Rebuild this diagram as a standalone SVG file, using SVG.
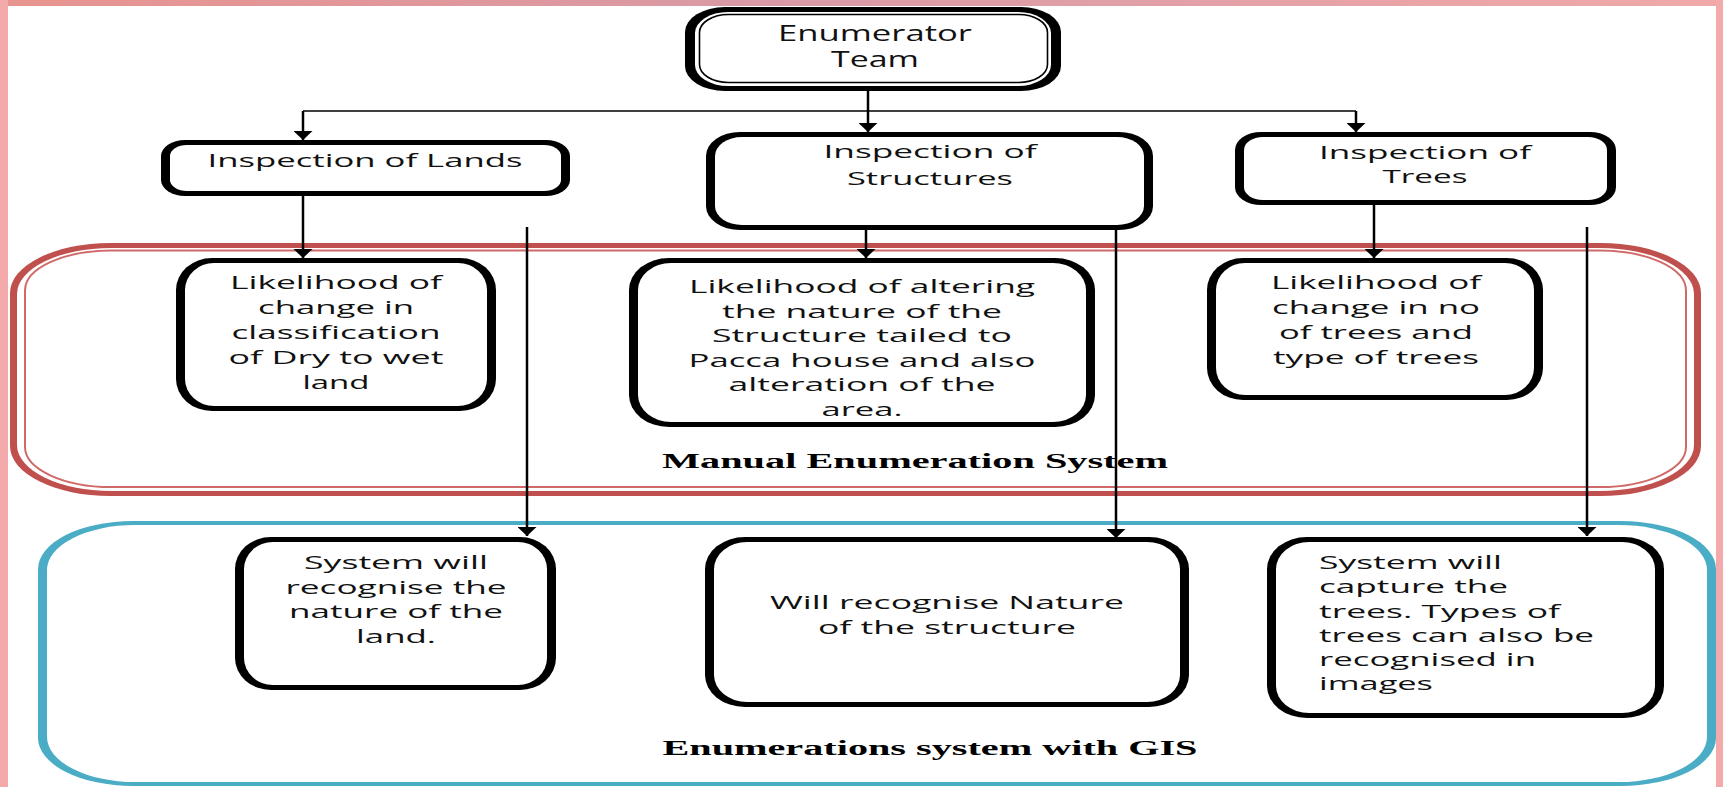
<svg xmlns="http://www.w3.org/2000/svg" width="1723" height="787" viewBox="0 0 1723 787">
<defs>
<linearGradient id="topband" x1="0" y1="0" x2="1" y2="0">
<stop offset="0" stop-color="#E8948F"/>
<stop offset="0.45" stop-color="#D99AA6"/>
<stop offset="1" stop-color="#F0A9A8"/>
</linearGradient>
<marker id="arr" viewBox="0 0 9 19" refX="9" refY="9.5" markerWidth="9" markerHeight="19" markerUnits="userSpaceOnUse" orient="auto">
<path d="M0,0 L9,9.5 L0,19 z" fill="#000"/>
</marker>
<style>
.ob{fill:#000}
.ib{fill:#fff}
.t{font-family:"Open Sans","Liberation Sans",sans-serif;font-size:18px;fill:#111;text-anchor:middle}
.big{font-size:21px}
.tl{text-anchor:start}
.h{font-family:"Liberation Serif","Times New Roman",serif;font-weight:bold;font-size:20px;fill:#000;text-anchor:middle}
.c{stroke:#000;stroke-width:2.5;fill:none}
.hz{stroke:#000;stroke-width:1.5;fill:none}
</style>
</defs>
<rect x="0" y="0" width="1723" height="787" fill="#fff"/>
<rect x="0" y="0" width="1723" height="6" fill="url(#topband)"/>
<rect x="0" y="0" width="8" height="787" fill="#F4A9AA"/>
<rect x="1716" y="0" width="7" height="787" fill="#F4A9AA"/>

<g id="frame-manual">
<rect x="10" y="243" width="1691" height="253" rx="100" ry="50" fill="#C0504D"/>
<rect x="17" y="248" width="1677" height="243" rx="94" ry="46" fill="#fff"/>
<rect x="25" y="250.5" width="1661" height="236.5" rx="86" ry="40" fill="none" stroke="#D06A68" stroke-width="2"/>
<text class="h" x="915" y="468" textLength="506" lengthAdjust="spacingAndGlyphs">Manual Enumeration System</text>
</g>

<g id="frame-gis">
<rect x="38" y="521" width="1678" height="265" rx="95" ry="48" fill="#4BACC6"/>
<rect x="47" y="525" width="1660" height="257" rx="88" ry="45" fill="#fff"/>
<text class="h" x="930" y="755" textLength="535" lengthAdjust="spacingAndGlyphs">Enumerations system with GIS</text>
</g>

<g id="connectors">
<path class="hz" d="M303,111 H1356"/>
<path class="c" d="M868,91 V132" marker-end="url(#arr)"/>
<path class="c" d="M303,111 V140" marker-end="url(#arr)"/>
<path class="c" d="M1356,111 V132" marker-end="url(#arr)"/>
<path class="c" d="M303,196 V258" marker-end="url(#arr)"/>
<path class="c" d="M866,230 V258" marker-end="url(#arr)"/>
<path class="c" d="M1374,205 V258" marker-end="url(#arr)"/>
<path class="c" d="M527,227 V536" marker-end="url(#arr)"/>
<path class="c" d="M1116,230 V538" marker-end="url(#arr)"/>
<path class="c" d="M1587,227 V536" marker-end="url(#arr)"/>
</g>

<g id="enumerator-team">
<rect class="ob" x="685" y="7" width="376" height="84" rx="40" ry="25"/>
<rect class="ib" x="695" y="12" width="356" height="74" rx="33" ry="21"/>
<rect x="699.5" y="14.5" width="348" height="68" rx="29" ry="18" fill="#fff" stroke="#000" stroke-width="1.6"/>
<text class="t big" x="875" y="41" textLength="194" lengthAdjust="spacingAndGlyphs">Enumerator</text>
<text class="t big" x="875" y="67" textLength="88" lengthAdjust="spacingAndGlyphs">Team</text>
</g>

<g id="inspection-lands">
<rect class="ob" x="161" y="140" width="409" height="56" rx="24" ry="16"/>
<rect class="ib" x="170" y="145" width="391" height="46" rx="17" ry="11"/>
<text class="t" x="365" y="167" textLength="315" lengthAdjust="spacingAndGlyphs">Inspection of Lands</text>
</g>

<g id="inspection-structures">
<rect class="ob" x="706" y="132" width="447" height="98" rx="34" ry="24"/>
<rect class="ib" x="715" y="137" width="429" height="88" rx="27" ry="19"/>
<text class="t" x="930" y="158" textLength="213" lengthAdjust="spacingAndGlyphs">Inspection of</text>
<text class="t" x="930" y="185" textLength="166" lengthAdjust="spacingAndGlyphs">Structures</text>
</g>

<g id="inspection-trees">
<rect class="ob" x="1235" y="132" width="381" height="73" rx="26" ry="18"/>
<rect class="ib" x="1244" y="137" width="363" height="63" rx="19" ry="13"/>
<text class="t" x="1425" y="159" textLength="212" lengthAdjust="spacingAndGlyphs">Inspection of</text>
<text class="t" x="1425" y="183" textLength="85" lengthAdjust="spacingAndGlyphs">Trees</text>
</g>

<g id="likelihood-land">
<rect class="ob" x="176" y="258" width="320" height="153" rx="36" ry="32"/>
<rect class="ib" x="185" y="263" width="302" height="143" rx="29" ry="27"/>
<text class="t" x="336" y="289" textLength="212" lengthAdjust="spacingAndGlyphs">Likelihood of</text>
<text class="t" x="336" y="314" textLength="156" lengthAdjust="spacingAndGlyphs">change in</text>
<text class="t" x="336" y="339" textLength="209" lengthAdjust="spacingAndGlyphs">classification</text>
<text class="t" x="336" y="364" textLength="215" lengthAdjust="spacingAndGlyphs">of Dry to wet</text>
<text class="t" x="336" y="389" textLength="67" lengthAdjust="spacingAndGlyphs">land</text>
</g>

<g id="likelihood-structure">
<rect class="ob" x="629" y="258" width="466" height="169" rx="40" ry="32"/>
<rect class="ib" x="638" y="263" width="448" height="159" rx="33" ry="27"/>
<text class="t" x="862" y="293" textLength="346" lengthAdjust="spacingAndGlyphs">Likelihood of altering</text>
<text class="t" x="862" y="317.5" textLength="280" lengthAdjust="spacingAndGlyphs">the nature of the</text>
<text class="t" x="862" y="342" textLength="300" lengthAdjust="spacingAndGlyphs">Structure tailed to</text>
<text class="t" x="862" y="366.5" textLength="347" lengthAdjust="spacingAndGlyphs">Pacca house and also</text>
<text class="t" x="862" y="391" textLength="267" lengthAdjust="spacingAndGlyphs">alteration of the</text>
<text class="t" x="862" y="415.5" textLength="81" lengthAdjust="spacingAndGlyphs">area.</text>
</g>

<g id="likelihood-trees">
<rect class="ob" x="1207" y="258" width="336" height="142" rx="36" ry="32"/>
<rect class="ib" x="1216" y="263" width="318" height="132" rx="29" ry="27"/>
<text class="t" x="1376" y="289" textLength="210" lengthAdjust="spacingAndGlyphs">Likelihood of</text>
<text class="t" x="1376" y="314" textLength="208" lengthAdjust="spacingAndGlyphs">change in no</text>
<text class="t" x="1376" y="339" textLength="194" lengthAdjust="spacingAndGlyphs">of trees and</text>
<text class="t" x="1376" y="364" textLength="206" lengthAdjust="spacingAndGlyphs">type of trees</text>
</g>

<g id="gis-land">
<rect class="ob" x="235" y="537" width="321" height="153" rx="36" ry="32"/>
<rect class="ib" x="244" y="542" width="303" height="143" rx="29" ry="27"/>
<text class="t" x="396" y="569" textLength="184" lengthAdjust="spacingAndGlyphs">System will</text>
<text class="t" x="396" y="593.5" textLength="221" lengthAdjust="spacingAndGlyphs">recognise the</text>
<text class="t" x="396" y="618" textLength="214" lengthAdjust="spacingAndGlyphs">nature of the</text>
<text class="t" x="396" y="642.5" textLength="80" lengthAdjust="spacingAndGlyphs">land.</text>
</g>

<g id="gis-structure">
<rect class="ob" x="705" y="537" width="484" height="170" rx="40" ry="32"/>
<rect class="ib" x="714" y="542" width="466" height="160" rx="33" ry="27"/>
<text class="t" x="947" y="609" textLength="354" lengthAdjust="spacingAndGlyphs">Will recognise Nature</text>
<text class="t" x="947" y="634" textLength="258" lengthAdjust="spacingAndGlyphs">of the structure</text>
</g>

<g id="gis-trees">
<rect class="ob" x="1267" y="537" width="397" height="181" rx="40" ry="32"/>
<rect class="ib" x="1276" y="542" width="379" height="171" rx="33" ry="27"/>
<text class="t tl" x="1319" y="569" textLength="183" lengthAdjust="spacingAndGlyphs">System will</text>
<text class="t tl" x="1319" y="593" textLength="189" lengthAdjust="spacingAndGlyphs">capture the</text>
<text class="t tl" x="1319" y="618" textLength="241" lengthAdjust="spacingAndGlyphs">trees. Types of</text>
<text class="t tl" x="1319" y="642" textLength="275" lengthAdjust="spacingAndGlyphs">trees can also be</text>
<text class="t tl" x="1319" y="666" textLength="217" lengthAdjust="spacingAndGlyphs">recognised in</text>
<text class="t tl" x="1319" y="690" textLength="114" lengthAdjust="spacingAndGlyphs">images</text>
</g>
</svg>
